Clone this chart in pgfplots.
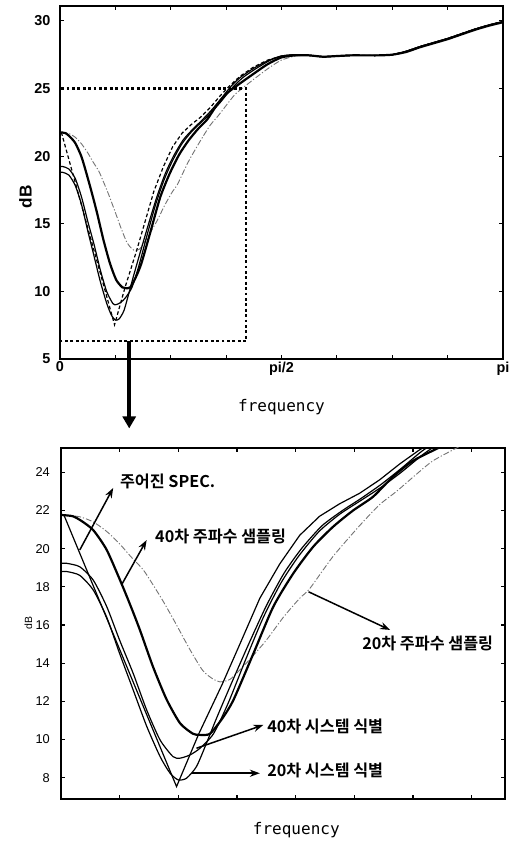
\documentclass[border=0pt]{standalone}
\usepackage{pgfplots}
\pgfplotsset{compat=1.18}
\usepackage{pgfplotstable}
\usepackage{fontspec}
\setmainfont{Liberation Sans}
\newfontfamily\monofont{DejaVu Sans Mono}
\newfontfamily\kr{Noto Sans CJK KR}[BoldFont={Noto Sans CJK KR Bold}]
\usetikzlibrary{arrows.meta}

% frequency axis in units of pi/16 (0 ... 16 = 0 ... pi), magnitude in dB
\pgfplotstableread{
x y
0.05 21.76
1.97 7.53
2.35 10.3
2.75 12.9
3.05 15.0
3.39 17.4
3.73 19.2
4.07 20.7
4.41 21.7
4.75 22.35
5.09 22.9
5.43 23.6
5.78 24.45
6.1 25.15
6.5 25.9
7.0 26.6
7.5 27.1
8.0 27.4
8.5 27.5
9.0 27.45
9.5 27.35
10.0 27.4
10.5 27.45
11.0 27.45
11.5 27.45
12.0 27.5
12.5 27.75
13.0 28.1
13.5 28.4
14.0 28.7
14.5 29.05
15.0 29.4
15.5 29.7
16.0 29.95
}\specdata

\pgfplotstableread{
x y
0.02 21.76
0.2 21.7
0.35 21.45
0.55 20.97
0.78 19.93
1.03 18.18
1.2 16.9
1.35 15.7
1.57 13.8
1.8 12.1
2.03 10.85
2.25 10.3
2.37 10.24
2.54 10.3
2.75 11.1
2.94 12.07
3.28 14.5
3.62 16.96
3.96 18.7
4.3 20.1
4.64 21.15
4.98 22.0
5.32 22.72
5.66 23.77
6.0 24.6
6.45 25.3
7.0 26.1
7.5 26.8
8.0 27.3
8.5 27.45
9.0 27.45
9.5 27.35
10.0 27.4
10.5 27.45
11.0 27.45
11.5 27.45
12.0 27.5
12.5 27.7
13.0 28.05
13.5 28.35
14.0 28.65
14.5 29.0
15.0 29.35
15.5 29.65
16.0 29.9
}\fsfourty

\pgfplotstableread{
x y
0.05 21.76
0.32 21.67
0.55 21.4
0.78 20.9
1.0 20.25
1.2 19.55
1.4 18.9
1.57 18.1
1.75 17.2
1.97 16.0
2.2 14.7
2.42 13.6
2.6 13.15
2.71 13.02
2.85 13.1
2.94 13.3
3.22 14.2
3.5 15.2
3.79 16.4
4.07 17.4
4.24 17.9
4.64 19.6
5.09 21.2
5.43 22.3
5.72 23.0
6.06 23.9
6.34 24.6
6.76 25.3
7.2 26.0
7.6 26.6
8.0 27.1
8.5 27.4
9.0 27.45
9.5 27.35
10.0 27.4
10.5 27.45
11.0 27.45
11.5 27.45
12.0 27.5
12.5 27.75
13.0 28.1
13.5 28.4
14.0 28.7
14.5 29.05
15.0 29.4
15.5 29.7
16.0 29.95
}\fstwenty

\pgfplotstableread{
x y
0.02 19.23
0.1 19.23
0.32 19.05
0.55 18.35
0.78 16.96
1.0 15.2
1.23 13.47
1.46 11.55
1.69 9.97
1.91 9.1
2.03 9.02
2.2 9.19
2.37 9.54
2.6 10.3
2.85 11.9
3.15 14.2
3.45 16.4
3.75 18.2
4.05 19.6
4.4 20.9
4.75 21.8
5.1 22.5
5.45 23.2
5.8 24.0
6.2 25.0
6.6 25.8
7.1 26.5
7.6 27.1
8.0 27.4
8.5 27.5
9.0 27.45
9.5 27.35
10.0 27.4
10.5 27.45
11.0 27.45
11.5 27.45
12.0 27.5
12.5 27.75
13.0 28.1
13.5 28.4
14.0 28.7
14.5 29.05
15.0 29.4
15.5 29.7
16.0 29.95
}\idfourty

\pgfplotstableread{
x y
0.02 18.8
0.1 18.8
0.32 18.6
0.55 17.83
0.78 16.4
1.0 14.5
1.23 12.6
1.46 10.7
1.69 9.1
1.86 8.23
2.0 7.88
2.14 7.97
2.31 8.58
2.48 9.8
2.65 11.1
2.9 12.9
3.2 15.0
3.5 17.0
3.8 18.7
4.1 20.0
4.45 21.2
4.8 22.0
5.1 22.6
5.45 23.35
5.8 24.2
6.15 25.1
6.5 25.8
7.0 26.5
7.5 27.05
8.0 27.4
8.5 27.5
9.0 27.45
9.5 27.35
10.0 27.4
10.5 27.45
11.0 27.45
11.5 27.45
12.0 27.5
12.5 27.75
13.0 28.1
13.5 28.4
14.0 28.7
14.5 29.05
15.0 29.4
15.5 29.7
16.0 29.95
}\idtwenty

\tikzset{
  annarrow/.style={black, line width=0.75pt, -{Stealth[length=5pt,width=3.6pt]}},
  annlabel/.style={anchor=west, inner sep=0pt, font=\kr\bfseries\fontsize{8.1}{9}\selectfont},
}
\pgfplotsset{
  respline/.style={black, line width=0.6pt, smooth, tension=0.4, no markers},
  boldline/.style={black, line width=1.1pt, smooth, tension=0.4, no markers},
  grayline/.style={black!55, line width=0.45pt, smooth, tension=0.4, no markers,
    dash pattern=on 3pt off 1pt on 0.6pt off 1pt},
  matlabbox/.style={
    scale only axis,
    clip mode=individual,
    axis line style={line width=0.8pt},
    every tick/.style={black, line width=0.6pt},
    major tick length=2.2pt,
    tick align=inside,
    tick pos=both,
    ticklabel pos=left,
  },
}

\begin{document}
\begin{tikzpicture}
\useasboundingbox (0,0) rectangle (255.5pt,421.5pt);

% full band
\begin{axis}[matlabbox,
  name=top,
  at={(30pt,242pt)}, anchor=south west,
  width=221.5pt, height=176.5pt,
  xmin=0, xmax=16, ymin=5, ymax=31.1,
  xtick={0,2,...,16},
  xticklabels={0,,,,pi/2,,,,pi},
  ytick={5,10,...,30},
  /pgf/number format/assume math mode=true,
  ticklabel style={font=\bfseries\fontsize{7.2}{8}\selectfont},
  yticklabel style={inner sep=0pt, xshift=-4.6pt},
  xticklabel style={inner sep=0pt, yshift=-1.2pt},
  xlabel={frequency},
  ylabel={dB},
  every axis x label/.style={at={(axis description cs:0.5,0)}, anchor=center,
    yshift=-24pt, font=\monofont\fontsize{8}{9}\selectfont},
  every axis y label/.style={at={(axis description cs:0,0.46)}, anchor=center,
    xshift=-17.3pt, rotate=90, font=\bfseries\fontsize{8.6}{10}\selectfont},
]
\addplot[grayline] table {\fstwenty};
\addplot[respline] table {\idtwenty};
\addplot[respline] table {\idfourty};
\addplot[black, line width=0.6pt, dash pattern=on 1.8pt off 1.2pt, no markers] table {\specdata};
\addplot[boldline] table {\fsfourty};
% zoomed region
\draw[black, line width=1.1pt, dash pattern=on 1.4pt off 1.3pt]
  (axis cs:0,6.33) rectangle (axis cs:6.72,25);
\coordinate (zoomfoot) at (axis cs:2.5,6.33);
\end{axis}

% zoomed low band
\begin{axis}[matlabbox,
  name=bot,
  at={(30.5pt,22pt)}, anchor=south west,
  width=222pt, height=175.65pt,
  xmin=0, xmax=7.57, ymin=6.88, ymax=25.29,
  xtick={1,...,7}, xticklabels={,,,,,,},
  ytick={8,10,...,24},
  /pgf/number format/assume math mode=true,
  yticklabel style={inner sep=0pt, xshift=-5.4pt, font=\fontsize{6.4}{7}\selectfont},
  xlabel={frequency},
  ylabel={dB},
  every axis x label/.style={at={(axis description cs:0.53,0)}, anchor=center,
    yshift=-15.5pt, font=\monofont\fontsize{8}{9}\selectfont},
  every axis y label/.style={at={(axis description cs:0,0.5)}, anchor=center,
    xshift=-16.3pt, rotate=90, font=\fontsize{5.2}{6}\selectfont},
]
\addplot[grayline] table {\fstwenty};
\addplot[respline] table {\idtwenty};
\addplot[respline] table {\idfourty};
\addplot[black, line width=0.6pt, no markers] table {\specdata};
\addplot[boldline] table {\fsfourty};

\coordinate (zoomhead) at (axis cs:1.15,26.3);

\draw[annarrow] (axis cs:0.32,19.93) -- (axis cs:0.89,23.18);
\node[annlabel] at (axis cs:1.0,23.5) {주어진 SPEC.};

\draw[annarrow] (axis cs:1.03,18.09) -- (axis cs:1.46,20.45);
\node[annlabel] at (axis cs:1.6,20.62) {40차 주파수 샘플링};

\draw[annarrow] (axis cs:4.22,17.74) -- (axis cs:5.61,15.74);
\node[annlabel] at (axis cs:5.13,15.04) {20차 주파수 샘플링};

\draw[annarrow] (axis cs:2.31,9.54) -- (axis cs:3.45,10.76);
\node[annlabel] at (axis cs:3.51,10.67) {40차 시스템 식별};

\draw[annarrow] (axis cs:2.23,8.23) -- (axis cs:3.39,8.23);
\node[annlabel] at (axis cs:3.51,8.4) {20차 시스템 식별};
\end{axis}

% link from the marked region to the enlarged view
\draw[black, line width=2pt, -{Triangle[length=6pt,width=6.5pt]}]
  (zoomfoot) -- (zoomfoot |- zoomhead);
\end{tikzpicture}
\end{document}
